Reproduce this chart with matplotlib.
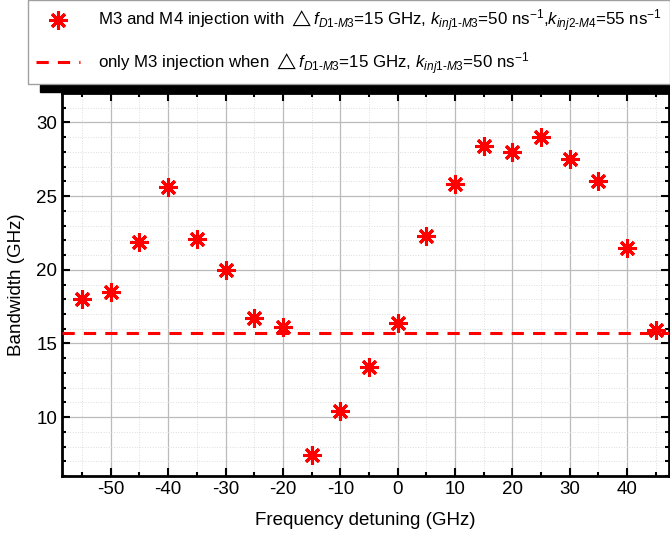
import numpy as np
import matplotlib
matplotlib.use("Agg")
import matplotlib.pyplot as plt
from matplotlib.ticker import MultipleLocator
from matplotlib.patches import Rectangle

plt.rcParams['font.family'] = ['Liberation Sans', 'DejaVu Sans']
plt.rcParams['mathtext.fontset'] = 'custom'
plt.rcParams['mathtext.rm'] = 'Liberation Sans'
plt.rcParams['mathtext.it'] = 'Liberation Sans:italic'
plt.rcParams['axes.unicode_minus'] = False

# data
detuning = [-55, -50, -45, -40, -35, -30, -25, -20, -15, -10, -5, 0,
            5, 10, 15, 20, 25, 30, 35, 40, 45]
bandwidth = [18.0, 18.5, 21.9, 25.6, 22.1, 20.0, 16.7, 16.1, 7.4, 10.4, 13.4, 16.4,
             22.3, 25.8, 28.4, 28.0, 29.0, 27.5, 26.0, 21.5, 15.9]
only_m3 = 15.7

label_both = (r'M3 and M4 injection with $\triangle\mathit{f}_{\mathit{D1\text{-}M3}}$=15 GHz, '
              r'$\mathit{k}_{\mathit{inj1\text{-}M3}}$=50 ns$^{-1}$,'
              r'$\mathit{k}_{\mathit{inj2\text{-}M4}}$=55 ns$^{-1}$')
label_m3 = (r'only M3 injection when $\triangle\mathit{f}_{\mathit{D1\text{-}M3}}$=15 GHz, '
            r'$\mathit{k}_{\mathit{inj1\text{-}M3}}$=50 ns$^{-1}$')

fig = plt.figure(figsize=(6.7, 5.41), dpi=100)
ax = fig.add_axes([62/670, 65/541, 607/670, 383/541])

pts, = ax.plot(detuning, bandwidth, linestyle='none', marker=(8, 2, 0),
               markersize=13, markeredgewidth=2.2, color='red', zorder=5)
ln = ax.axhline(only_m3, color='red', linestyle=(0, (4, 3)), linewidth=2.2, zorder=4)

ax.set_xlim(-58.5, 47.3)
ax.set_ylim(6, 32)
ax.xaxis.set_major_locator(MultipleLocator(10))
ax.xaxis.set_minor_locator(MultipleLocator(5))
ax.yaxis.set_major_locator(MultipleLocator(5))
ax.yaxis.set_minor_locator(MultipleLocator(1))
ax.grid(which='major', color='#bbbbbb', linewidth=0.9)
ax.grid(which='minor', color='#dddddd', linewidth=0.7, linestyle=':')
ax.tick_params(which='both', direction='in', top=True, right=True, labelsize=13.5, width=1.5)
ax.tick_params(which='major', length=6)
ax.tick_params(which='minor', length=3)
for s in ax.spines.values():
    s.set_linewidth(2)

ax.set_xlabel('Frequency detuning (GHz)', fontsize=13.5, labelpad=10)
ax.set_ylabel('Bandwidth (GHz)', fontsize=13.5, labelpad=8)

# legend box above the axes, with a black bar under it
fig.patches.append(Rectangle((40/670, (541-92)/541), 640/670, 7/541,
                             transform=fig.transFigure, color='black', zorder=1))
leg = fig.legend([pts, ln], [label_both, label_m3], loc='upper left',
                 bbox_to_anchor=(28/670, 1.0), frameon=True, fancybox=False,
                 edgecolor='#888888', fontsize=12.2, handlelength=2.6,
                 labelspacing=0.95, borderpad=0.45, borderaxespad=0.0,
                 handletextpad=1.1)
leg.get_frame().set_linewidth(1.0)

fig.savefig('out.png', dpi=100)
